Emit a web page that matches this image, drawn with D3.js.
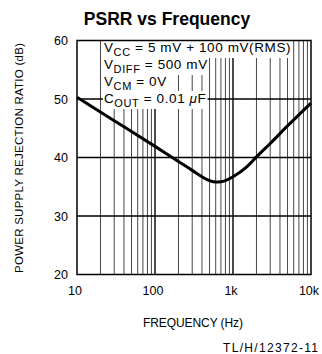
<!DOCTYPE html>
<html><head><meta charset="utf-8">
<script src="https://cdn.jsdelivr.net/npm/d3@7"></script>
<style>body{margin:0;background:#fff}svg{display:block;font-family:"Liberation Sans",Arial,sans-serif}</style>
</head><body><svg id="c" width="322" height="354"></svg>
<script>
const freq = [10, 30, 100, 200, 300, 400, 500, 600, 700, 800, 1000, 1500, 2000, 3000, 5000, 10000];
const psrr = [50.3, 46.3, 41.9, 39.3, 37.8, 36.7, 36.05, 35.8, 35.85, 36.05, 36.7, 38.4, 40.1, 42.4, 45.4, 49.3];
const yTicks = [20, 30, 40, 50, 60];
const xTicks = [10, 100, 1000, 10000];
const xTickLabels = ["10", "100", "1k", "10k"];

const svg = d3.select("#c");
const x = d3.scaleLog().domain([10, 10000]).range([77, 311]);
const y = d3.scaleLinear().domain([20, 60]).range([274.5, 40.5]);

// vertical grid
const vg = [];
[10, 100, 1000].forEach(d => { for (let m = 1; m <= 9; m++) { const v = d * m; if (v > 10 && v < 10000) vg.push(v); } });
svg.append("g").selectAll("line").data(vg).join("line")
  .attr("x1", d => x(d)).attr("x2", d => x(d))
  .attr("y1", y(20)).attr("y2", y(60))
  .attr("stroke", d => (d === 100 || d === 1000) ? "#000" : "#333")
  .attr("stroke-width", d => (d === 100 || d === 1000) ? 1.4 : 0.9);
// horizontal grid
svg.append("g").selectAll("line").data([30, 40, 50]).join("line")
  .attr("x1", x(10)).attr("x2", x(10000))
  .attr("y1", d => y(d)).attr("y2", d => y(d))
  .attr("stroke", "#000").attr("stroke-width", 1.4);

// annotation
const ann = svg.append("g").attr("font-size", 13.5);
const lines = [
  [["V", ""], ["CC", "sub"], [" = 5 mV + 100 mV(RMS)", ""]],
  [["V", ""], ["DIFF", "sub"], [" = 500 mV", ""]],
  [["V", ""], ["CM", "sub"], [" = 0V", ""]],
  [["C", ""], ["OUT", "sub"], [" = 0.01 ", ""], ["μ", "it"], ["F", ""]]
];
const bases = [52, 69, 86, 103];
lines.forEach((ln, i) => {
  const bg = ann.append("rect").attr("fill", "#fff");
  const t = ann.append("text").attr("x", 104).attr("y", bases[i]).attr("letter-spacing", 0.6);
  let sub = false;
  ln.forEach(([s, k]) => {
    const ts = t.append("tspan").text(s);
    if (k === "sub") { ts.attr("font-size", 11).attr("dy", 4); sub = true; }
    else if (sub) { ts.attr("dy", -4); sub = false; }
    if (k === "it") ts.attr("font-style", "italic");
  });
  const b = t.node().getBBox();
  bg.attr("x", b.x - 1).attr("y", b.y).attr("width", b.width + 2).attr("height", b.height);
});

// curve
svg.append("path")
  .attr("d", d3.line().x((d, i) => x(freq[i])).y(d => y(d)).curve(d3.curveMonotoneX)(psrr))
  .attr("fill", "none").attr("stroke", "#000").attr("stroke-width", 3);

// frame
svg.append("rect").attr("x", x(10)).attr("y", y(60)).attr("width", x(10000) - x(10)).attr("height", y(20) - y(60))
  .attr("fill", "none").attr("stroke", "#000").attr("stroke-width", 1.5);

// y tick labels
svg.append("g").selectAll("text").data(yTicks).join("text")
  .attr("x", 68).attr("y", d => y(d) + 4.5).attr("text-anchor", "end").attr("font-size", 12.5).text(d => d);
// x tick labels
svg.append("g").selectAll("text").data(xTicks).join("text")
  .attr("x", d => x(d) - 2).attr("y", 295).attr("text-anchor", "middle").attr("font-size", 12.5)
  .text((d, i) => xTickLabels[i]);

// titles
svg.append("text").attr("x", 167).attr("y", 25).attr("text-anchor", "middle")
  .attr("font-weight", "bold").attr("font-size", 17.5).text("PSRR vs Frequency");
svg.append("text").attr("transform", "translate(23,158) rotate(-90)").attr("text-anchor", "middle")
  .attr("font-size", 11.5).attr("textLength", 230).attr("lengthAdjust", "spacing")
  .text("POWER SUPPLY REJECTION RATIO (dB)");
svg.append("text").attr("x", 193).attr("y", 327).attr("text-anchor", "middle")
  .attr("font-size", 12).attr("textLength", 100).attr("lengthAdjust", "spacing").text("FREQUENCY (Hz)");
svg.append("text").attr("x", 318).attr("y", 352).attr("text-anchor", "end")
  .attr("font-size", 12).attr("textLength", 95).attr("lengthAdjust", "spacing").text("TL/H/12372-11");
</script></body></html>
